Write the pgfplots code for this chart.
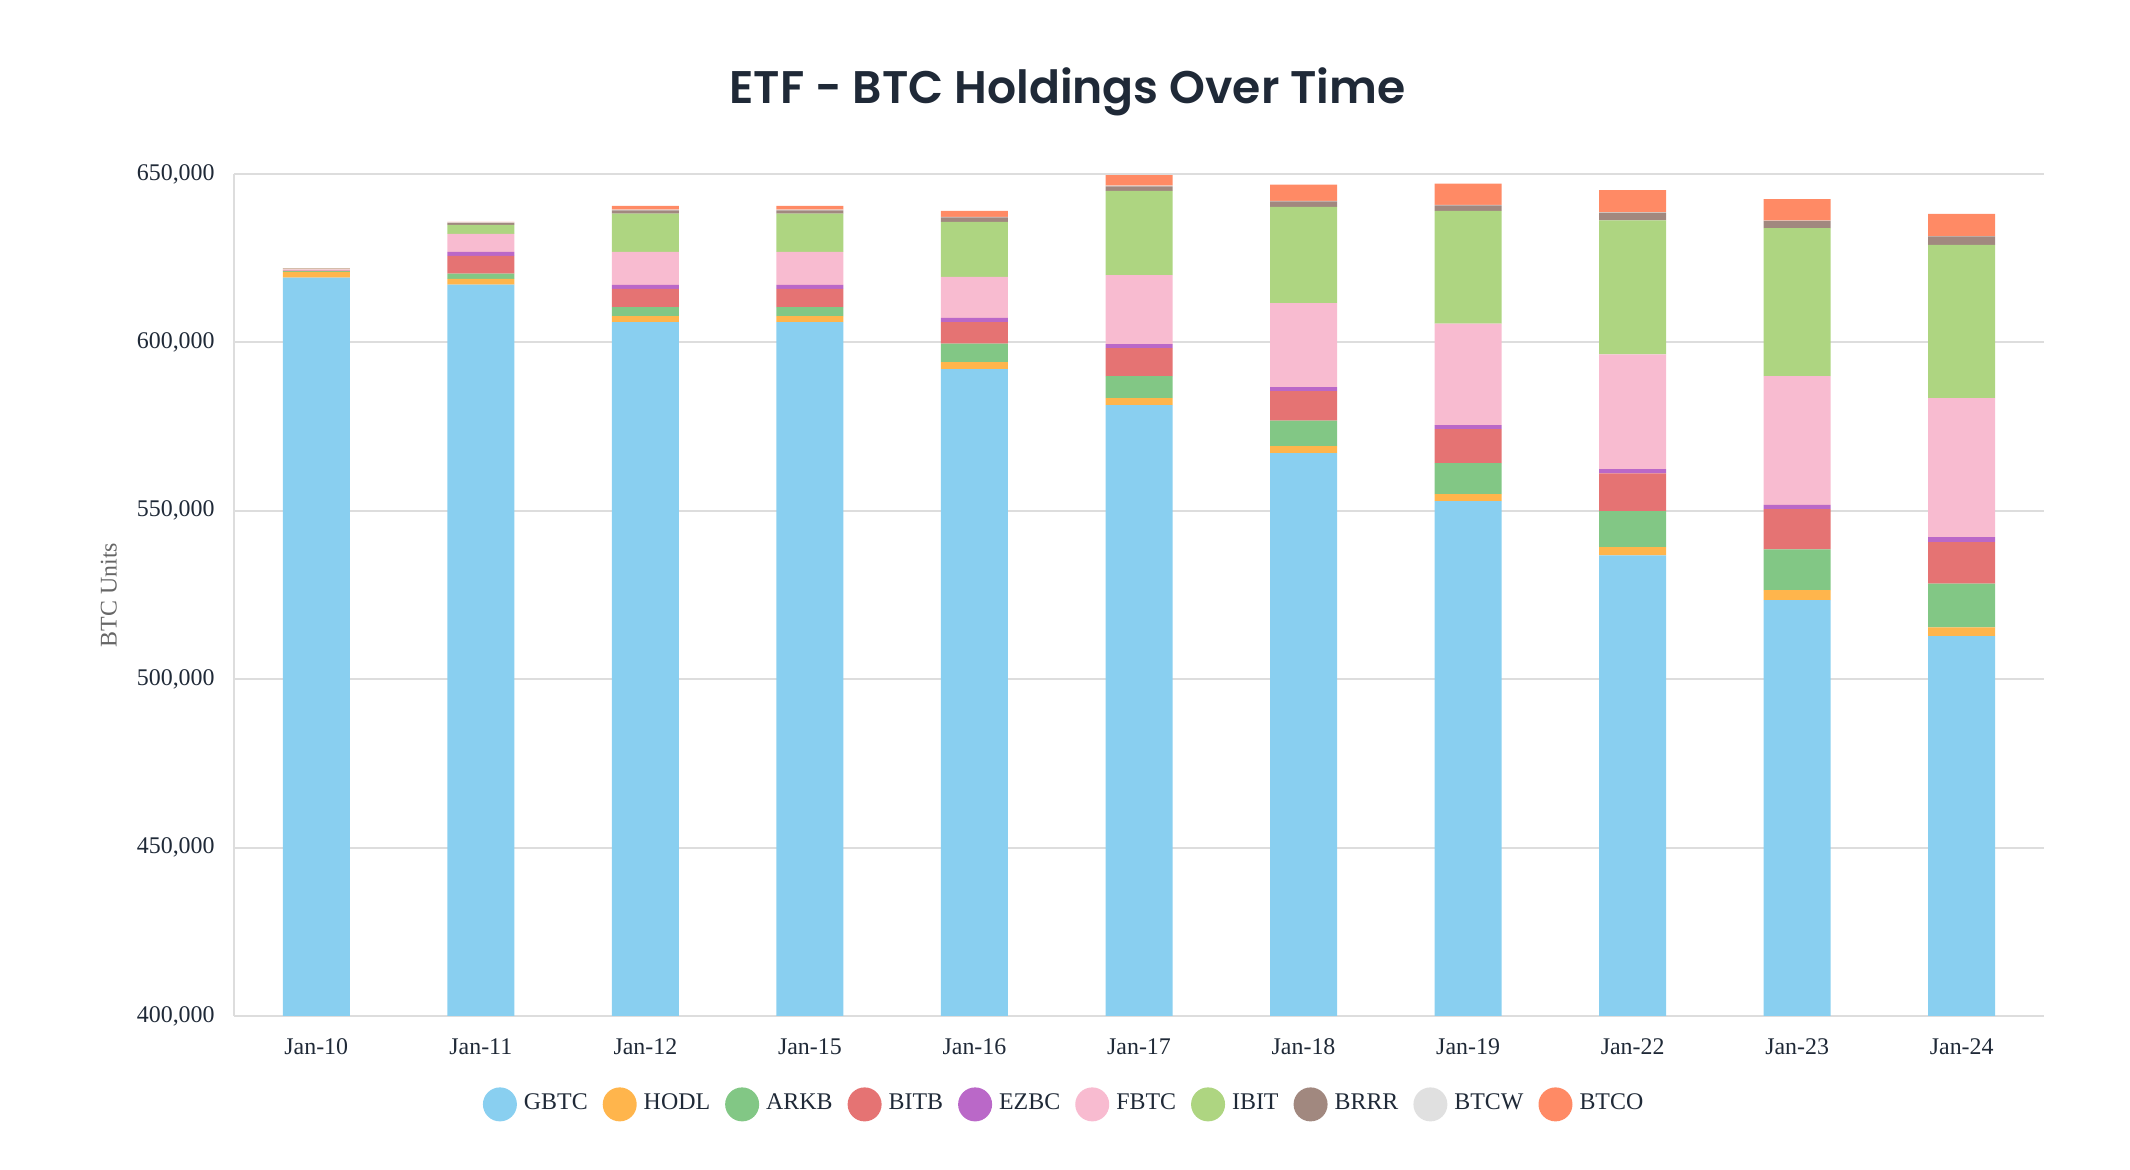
\documentclass[border=0pt]{standalone}
\usepackage{fontspec}
\setmainfont{Liberation Serif}
\newfontfamily\titlefont{Poppins SemiBold}
\usepackage{pgfplots}
\usepackage{pgfplotstable}
\pgfplotsset{compat=1.18}
\definecolor{cGBTC}{HTML}{89CFF0}
\definecolor{cHODL}{HTML}{FFB54C}
\definecolor{cARKB}{HTML}{82C785}
\definecolor{cBITB}{HTML}{E57373}
\definecolor{cEZBC}{HTML}{BA68C8}
\definecolor{cFBTC}{HTML}{F8BBD0}
\definecolor{cIBIT}{HTML}{AED581}
\definecolor{cBRRR}{HTML}{A1887F}
\definecolor{cBTCW}{HTML}{E0E0E0}
\definecolor{cBTCO}{HTML}{FF8A65}
\definecolor{navy}{HTML}{1F2937}
\definecolor{gridc}{HTML}{DDDDDD}
\definecolor{labgray}{HTML}{666666}

\pgfplotstableread{
x GBTC HODL ARKB BITB EZBC FBTC IBIT BRRR BTCW BTCO
0 619220 1700 200 150 100 300 150 50 50 50
1 617130 1690 1580 5250 1190 5350 2670 600 200 150
2 606040 1790 2670 5350 1190 9800 11380 990 200 1090
3 606040 1790 2670 5350 1190 9800 11380 990 200 1150
4 592090 2080 5440 6440 1190 12180 16330 1390 100 1780
5 581390 2080 6540 8310 1190 20490 24950 1390 200 3150
6 567140 2080 7520 8810 1190 24950 28510 1680 100 4850
7 552880 2080 9210 10100 1190 30100 33460 1680 100 6340
8 536740 2500 10630 11250 1250 34070 39810 2300 100 6560
9 523500 2920 12090 11980 1250 38240 43970 2090 100 6360
10 512770 2600 13030 12300 1460 41260 45540 2500 100 6560
}\data

\begin{document}
\begin{tikzpicture}
\path[use as bounding box] (0mm,0mm) rectangle (213mm,117mm);
\begin{axis}[
  at={(23.4mm,15.4mm)}, anchor=south west,
  scale only axis, width=181mm, height=84.2mm,
  ybar stacked, bar width=6.7mm,
  xmin=-0.5, xmax=10.5, ymin=400000, ymax=650000,
  xtick={0,1,2,3,4,5,6,7,8,9,10},
  xticklabels={Jan-10,Jan-11,Jan-12,Jan-15,Jan-16,Jan-17,Jan-18,Jan-19,Jan-22,Jan-23,Jan-24},
  ytick={400000,450000,500000,550000,600000,650000},
  scaled y ticks=false,
  /pgf/number format/assume math mode=true,
  yticklabel style={/pgf/number format/fixed, /pgf/number format/1000 sep={,}, xshift=-0.7mm},
  xticklabel style={yshift=-1mm},
  tick label style={font=\fontsize{6.8}{8}\selectfont, text=navy},
  major tick length=0pt,
  axis x line*=bottom, axis y line*=left,
  axis line style={gridc, line width=0.6pt, -},
  ymajorgrids, grid style={gridc, line width=0.6pt},
  title={ETF - BTC Holdings Over Time},
  title style={at={(axis description cs:0.4605,1.072)}, anchor=center, font=\titlefont\fontsize{13}{15}\selectfont, text=navy},
  ylabel={BTC Units},
  ylabel style={at={(axis description cs:-0.0691,0.5)}, anchor=center, font=\fontsize{6.8}{8}\selectfont, text=labgray},
  legend columns=10,
  legend style={at={(0.460,-0.105)}, anchor=center, draw=none, fill=none,
    font=\fontsize{6.8}{8}\selectfont, text=navy,
    /tikz/every even column/.append style={column sep=0.8mm}},
  legend image code/.code={\fill[#1,draw=none] (1.7mm,0mm) circle (1.7mm);},
  every axis plot/.append style={draw=none},
]
\addplot[fill=cGBTC] table[x=x,y=GBTC]{\data};
\addplot[fill=cHODL] table[x=x,y=HODL]{\data};
\addplot[fill=cARKB] table[x=x,y=ARKB]{\data};
\addplot[fill=cBITB] table[x=x,y=BITB]{\data};
\addplot[fill=cEZBC] table[x=x,y=EZBC]{\data};
\addplot[fill=cFBTC] table[x=x,y=FBTC]{\data};
\addplot[fill=cIBIT] table[x=x,y=IBIT]{\data};
\addplot[fill=cBRRR] table[x=x,y=BRRR]{\data};
\addplot[fill=cBTCW] table[x=x,y=BTCW]{\data};
\addplot[fill=cBTCO] table[x=x,y=BTCO]{\data};
\legend{GBTC,HODL,ARKB,BITB,EZBC,FBTC,IBIT,BRRR,BTCW,BTCO}
\end{axis}
\end{tikzpicture}
\end{document}
